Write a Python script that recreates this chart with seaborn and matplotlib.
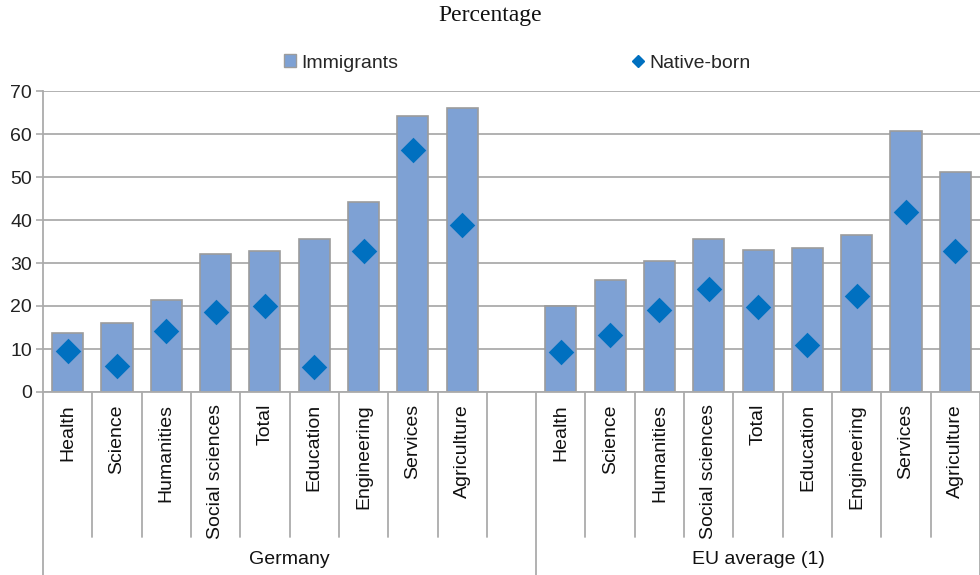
import matplotlib
matplotlib.use("Agg")
import matplotlib.pyplot as plt
import seaborn as sns
import pandas as pd
from matplotlib.patches import Patch
from matplotlib.lines import Line2D
from matplotlib.transforms import blended_transform_factory

# Fields of study, in display order within each group
fields = ["Health", "Science", "Humanities", "Social sciences", "Total",
          "Education", "Engineering", "Services", "Agriculture"]
groups = ["Germany", "EU average (1)"]

# Percentages per field
immigrants_de = [13.7, 16.0, 21.5, 32.0, 32.7, 35.6, 44.1, 64.3, 66.0]
native_de = [9.5, 6.1, 14.2, 18.6, 20.0, 5.9, 32.9, 56.2, 38.9]
immigrants_eu = [20.0, 26.0, 30.4, 35.6, 33.0, 33.4, 36.4, 60.8, 51.1]
native_eu = [9.4, 13.2, 19.1, 24.0, 19.7, 10.9, 22.4, 41.8, 32.9]

y_ticks = [0, 10, 20, 30, 40, 50, 60, 70]

BAR = "#7EA1D4"
BAR_EDGE = "#9C9C9C"
MARK = "#0070C0"
GRID = "#ABABAB"

sns.set_theme(style="white")
plt.rcParams["font.family"] = ["Liberation Sans", "DejaVu Sans"]

# One slot per bar, with an empty slot separating the two groups
rows = []
order = []
for g, imm, nat in [(groups[0], immigrants_de, native_de),
                    (groups[1], immigrants_eu, native_eu)]:
    for f, i, n in zip(fields, imm, nat):
        key = f"{g}|{f}"
        order.append(key)
        rows.append({"slot": key, "group": g, "field": f,
                     "immigrants": i, "native": n})
    if g == groups[0]:
        order.append("gap")
df = pd.DataFrame(rows)

fig = plt.figure(figsize=(9.8, 5.75), dpi=100)
ax = fig.add_axes([43 / 980, 1 - 392 / 575, 1 - 43 / 980, (392 - 91) / 575])

sns.barplot(data=df, x="slot", y="immigrants", order=order, color=BAR,
            saturation=1, width=0.63, edgecolor=BAR_EDGE, linewidth=1.2,
            ax=ax, zorder=2)
sns.stripplot(data=df, x="slot", y="native", order=order, jitter=False,
              marker="D", size=13, color=MARK, linewidth=0, ax=ax, zorder=3)

ax.set_xlim(-0.5, len(order) - 0.5)
ax.set_ylim(0, 70)
ax.set_yticks(y_ticks)
ax.set_yticklabels([str(v) for v in y_ticks], fontsize=14, color="#222222")
ax.set_xticks([])
ax.set_xlabel("")
ax.set_ylabel("")
ax.grid(axis="y", color=GRID, linewidth=1.3, zorder=0)
ax.set_axisbelow(True)
for side in ["top", "right"]:
    ax.spines[side].set_visible(False)
ax.spines["left"].set_color(GRID)
ax.spines["left"].set_linewidth(1.3)
ax.spines["bottom"].set_color(GRID)
ax.spines["bottom"].set_linewidth(1.3)
ax.tick_params(axis="y", which="major", left=True, length=5, width=1.2,
               color=GRID, pad=3)

# Category labels and separators below the axis
trans = blended_transform_factory(ax.transData, ax.transAxes)
axes_h = 392 - 91
inner_bottom = -(537 - 392) / axes_h
outer_bottom = -(575 - 392) / axes_h
label_top = -(404 - 392) / axes_h
group_y = -(560 - 392) / axes_h

for pos, key in enumerate(order):
    if key == "gap":
        continue
    field = key.split("|")[1]
    ax.text(pos, label_top, field, transform=trans, rotation=90,
            ha="center", va="top", fontsize=14, color="#111111")

n = len(order)
for b in range(n + 1):
    x = b - 0.5
    full = b in (0, 10, n)
    ax.plot([x, x], [0, outer_bottom if full else inner_bottom],
            transform=trans, color=GRID, linewidth=1.3, clip_on=False,
            zorder=1)

ax.text(4.5, group_y, groups[0], transform=trans, ha="center", va="center",
        fontsize=14, color="#111111")
ax.text(14.0, group_y, groups[1], transform=trans, ha="center", va="center",
        fontsize=14, color="#111111")

fig.text(490 / 980, 1 - 16 / 575, "Percentage", ha="center", va="center",
         fontsize=17, family=["Liberation Serif", "DejaVu Serif"],
         color="#111111")

handles = [Patch(facecolor=BAR, edgecolor=BAR_EDGE, linewidth=1.0),
           Line2D([], [], linestyle="none", marker="D", markersize=6,
                  color=MARK)]
fig.legend(handles, ["Immigrants", "Native-born"], loc="center",
           bbox_to_anchor=(517 / 980, 1 - 63 / 575), ncol=2, frameon=False,
           fontsize=14, handlelength=0.65, handleheight=0.65,
           handletextpad=0.25, columnspacing=12.0)

fig.savefig("out.png", dpi=100)
